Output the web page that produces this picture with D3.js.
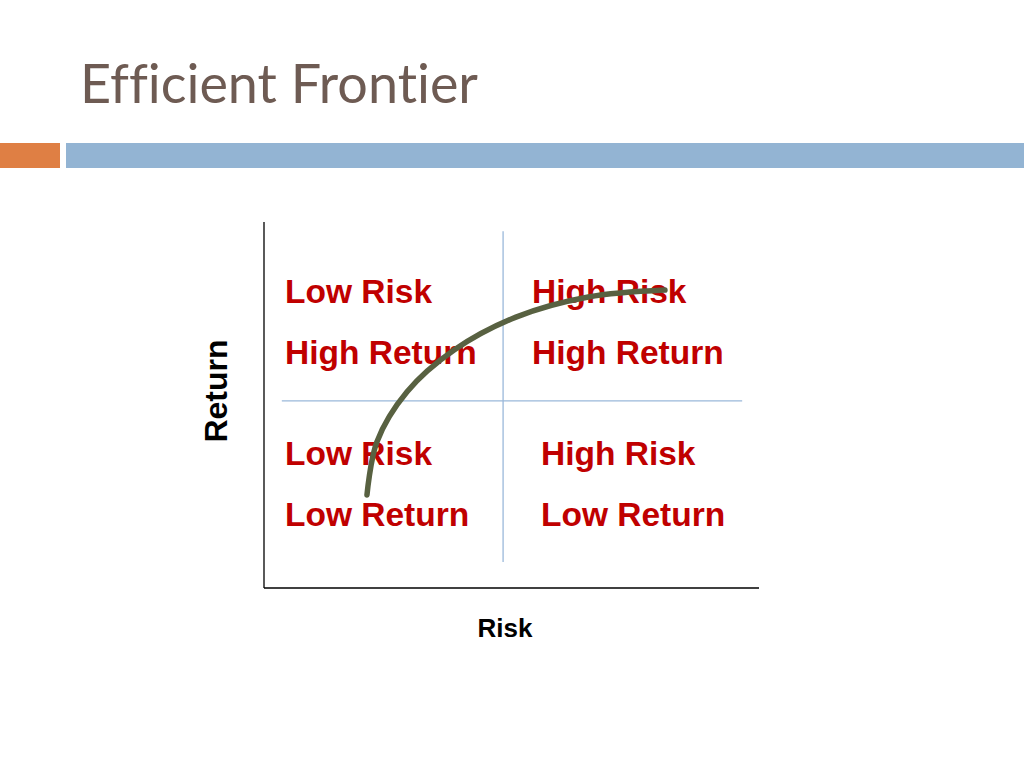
<!DOCTYPE html>
<html>
<head>
<meta charset="utf-8">
<script src="https://cdn.jsdelivr.net/npm/d3@7"></script>
<style>
  html, body { margin: 0; padding: 0; background: #fff; }
  svg { display: block; }
  text { font-variant-ligatures: none; font-feature-settings: "liga" 0, "dlig" 0; }
</style>
</head>
<body>
<div id="chart"></div>
<script>
// quadrant labels, two lines each
const quadrants = [
    { risk: "Low Risk", ret: "High Return", col: 0, row: 0 },
    { risk: "High Risk", ret: "High Return", col: 1, row: 0 },
    { risk: "Low Risk", ret: "Low Return", col: 0, row: 1 },
    { risk: "High Risk", ret: "Low Return", col: 1, row: 1 }
];

// efficient frontier (risk, return on a 0-10 scale)
const frontierRisk   = [2.08, 2.28, 2.89, 3.84, 5.09, 6.55, 8.10];
const frontierReturn = [2.54, 3.99, 5.36, 6.50, 7.40, 7.95, 8.14];

// divider lines between the quadrants
const midRisk = 4.83;
const midReturn = 5.11;

const width = 1024, height = 768;

const svg = d3.select("#chart")
    .append("svg")
    .attr("width", width)
    .attr("height", height);

// title and header bars
svg.append("text")
    .attr("x", 80)
    .attr("y", 103)
    .attr("textLength", 398)
    .attr("lengthAdjust", "spacingAndGlyphs")
    .style("font-family", "Lato, 'Noto Sans', sans-serif")
    .style("font-size", "55px")
    .style("fill", "#6e5b53")
    .text("Efficient Frontier");

svg.append("rect").attr("x", 0).attr("y", 143).attr("width", 60).attr("height", 25).attr("fill", "#df7f44");
svg.append("rect").attr("x", 66).attr("y", 143).attr("width", width - 66).attr("height", 25).attr("fill", "#93b4d3");

// scales
const x = d3.scaleLinear().domain([0, 10]).range([264, 759]);
const y = d3.scaleLinear().domain([0, 10]).range([588, 222]);

// axes (no ticks, just the lines)
svg.append("line")
    .attr("x1", x(0)).attr("x2", x(0))
    .attr("y1", y(10)).attr("y2", y(0))
    .attr("stroke", "#000").attr("stroke-width", 1.3);
svg.append("line")
    .attr("x1", x(0)).attr("x2", x(10))
    .attr("y1", y(0)).attr("y2", y(0))
    .attr("stroke", "#000").attr("stroke-width", 1.3);

// quadrant dividers
svg.append("line")
    .attr("x1", x(midRisk)).attr("x2", x(midRisk))
    .attr("y1", y(9.75)).attr("y2", y(0.71))
    .attr("stroke", "#9ab8da").attr("stroke-width", 1.3);
svg.append("line")
    .attr("x1", x(0.36)).attr("x2", x(9.66))
    .attr("y1", y(midReturn)).attr("y2", y(midReturn))
    .attr("stroke", "#9ab8da").attr("stroke-width", 1.3);

// quadrant labels
const colX = [[285, 285], [532, 541]];
const rowY = [[303, 364], [465, 526]];
const labels = svg.selectAll("g.quad")
    .data(quadrants)
    .join("g")
    .attr("class", "quad")
    .style("font-family", "'Liberation Sans', Arial, sans-serif")
    .style("font-weight", "bold")
    .style("font-size", "33.5px")
    .style("fill", "#c00000");

labels.append("text")
    .attr("x", d => colX[d.col][d.row])
    .attr("y", d => rowY[d.row][0])
    .text(d => d.risk);
labels.append("text")
    .attr("x", d => colX[d.col][d.row])
    .attr("y", d => rowY[d.row][1])
    .text(d => d.ret);

// frontier curve
const line = d3.line()
    .x(d => x(d[0]))
    .y(d => y(d[1]))
    .curve(d3.curveCatmullRom);

svg.append("path")
    .datum(d3.zip(frontierRisk, frontierReturn))
    .attr("d", line)
    .attr("fill", "none")
    .attr("stroke", "#586141")
    .attr("stroke-width", 5.5)
    .attr("stroke-linecap", "round");

// axis titles
svg.append("text")
    .attr("transform", "translate(227,391) rotate(-90)")
    .attr("text-anchor", "middle")
    .style("font-family", "'Liberation Sans', Arial, sans-serif")
    .style("font-weight", "bold")
    .style("font-size", "32px")
    .style("fill", "#000")
    .text("Return");

svg.append("text")
    .attr("x", 505)
    .attr("y", 637)
    .attr("text-anchor", "middle")
    .style("font-family", "'Liberation Sans', Arial, sans-serif")
    .style("font-weight", "bold")
    .style("font-size", "26px")
    .style("fill", "#000")
    .text("Risk");
</script>
</body>
</html>
